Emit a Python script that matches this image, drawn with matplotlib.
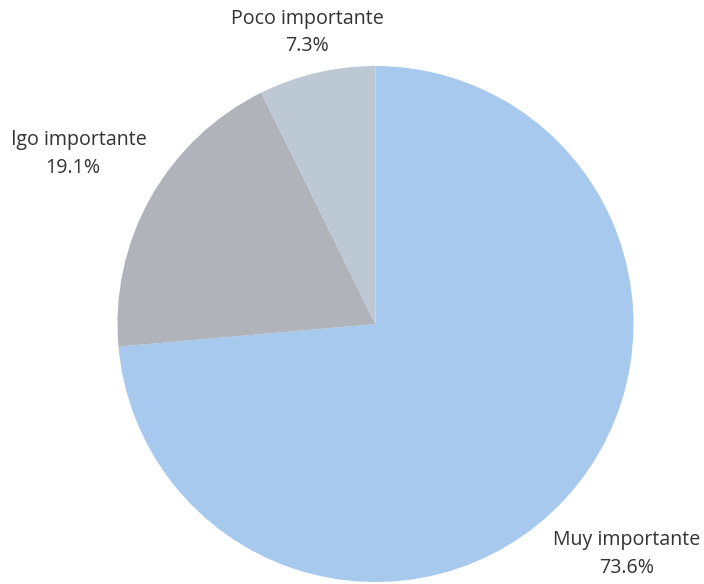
import matplotlib.pyplot as plt
from matplotlib.patches import Rectangle
import numpy as np

labels = ["Muy importante", "Algo importante", "Poco importante"]
values = [73.6, 19.1, 7.3]
colors = ["#a7c9ee", "#b0b3b9", "#bcc8d3"]
label_dist = [1.32, 1.345, 1.16]

plt.rcParams['font.family'] = ['Open Sans', 'DejaVu Sans']

fig = plt.figure(figsize=(7.04, 5.84), dpi=100)
ax = fig.add_axes([0, 0, 1, 1])

cx, cy, r = 375.5, 584 - 324, 258
wedges, _ = ax.pie(values, colors=colors, startangle=90, counterclock=False,
                   center=(cx, cy), radius=r, frame=True)
ax.set_xlim(0, 704)
ax.set_ylim(0, 584)
ax.set_aspect('equal')
ax.axis('off')

# the original chart's container cuts off the left edge of the page
clip = Rectangle((11, -50), 800, 700, transform=ax.transData)

for w, lab, v, d in zip(wedges, labels, values, label_dist):
  mid = np.deg2rad((w.theta1 + w.theta2) / 2)
  x = cx + d * r * np.cos(mid)
  y = cy + d * r * np.sin(mid)
  t = ax.text(x, y, f"{lab}\n{v}%", ha='center', va='center', fontsize=14.1,
              color='#333333', linespacing=1.5, clip_on=True)
  t.set_clip_path(clip)

fig.savefig("out.png", dpi=100)
